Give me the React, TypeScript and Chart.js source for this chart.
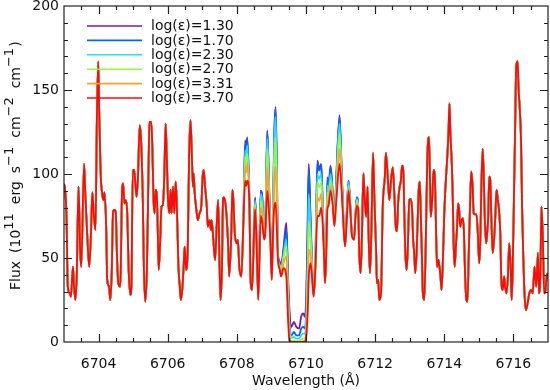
import React, { useEffect, useRef } from 'react';
import { Chart, registerables } from 'chart.js';

Chart.register(...registerables);

const seriesLabels = ['log(ε)=1.30', 'log(ε)=1.70', 'log(ε)=2.30', 'log(ε)=2.70', 'log(ε)=3.31', 'log(ε)=3.70'];
const seriesColors = ['rgb(118,28,168)', 'rgb(0,100,255)', 'rgb(40,220,255)', 'rgb(150,250,60)', 'rgb(255,160,40)', 'rgb(255,10,10)'];

const xTicks = [6704, 6706, 6708, 6710, 6712, 6714, 6716];
const yTicks = [0, 50, 100, 150, 200];

// shared part, left of the abundance-sensitive region
const waveLeft = [
  6703.00, 6703.02, 6703.07, 6703.11, 6703.17, 6703.20, 6703.26, 6703.29, 6703.33, 6703.37,
  6703.42, 6703.47, 6703.50, 6703.58, 6703.62, 6703.67, 6703.73, 6703.78, 6703.82, 6703.86,
  6703.91, 6703.95, 6703.99, 6704.02, 6704.06, 6704.11, 6704.14, 6704.17, 6704.22, 6704.25,
  6704.30, 6704.34, 6704.38, 6704.42, 6704.47, 6704.50, 6704.53, 6704.57, 6704.62, 6704.64,
  6704.68, 6704.71, 6704.75, 6704.79, 6704.83, 6704.87, 6704.92, 6704.95, 6704.99, 6705.03,
  6705.07, 6705.10, 6705.14, 6705.19, 6705.23, 6705.28, 6705.31, 6705.35, 6705.40, 6705.45,
  6705.47, 6705.52, 6705.55, 6705.59, 6705.62, 6705.65, 6705.69, 6705.71, 6705.74, 6705.78,
  6705.82, 6705.86, 6705.90, 6705.94, 6705.97, 6706.01, 6706.05, 6706.08, 6706.11, 6706.15,
  6706.19, 6706.23, 6706.26, 6706.31, 6706.35, 6706.38, 6706.42, 6706.46, 6706.49, 6706.53,
  6706.58, 6706.62, 6706.66, 6706.70, 6706.73, 6706.75, 6706.78, 6706.83, 6706.87, 6706.92,
  6706.97, 6707.01, 6707.04, 6707.08, 6707.13, 6707.16, 6707.21, 6707.25, 6707.27, 6707.32,
  6707.37, 6707.42, 6707.46, 6707.50, 6707.53, 6707.57, 6707.60, 6707.62, 6707.67, 6707.71,
  6707.75, 6707.78, 6707.84, 6707.87, 6707.90, 6707.94, 6707.99, 6708.03, 6708.07,
];
const fluxLeft = [
  94, 92.5, 76.6, 33, 29, 27, 44.8, 33, 25, 41,
  92.5, 53, 44.8, 106, 86.5, 64.7, 44.8, 64.7, 89, 76.6,
  66.7, 131, 167, 136, 100.4, 87.5, 84.5, 89, 68.7, 37,
  33, 25, 41, 77.6, 78.6, 76.6, 53, 35, 33, 41,
  90.5, 94.4, 82.5, 84.5, 76.6, 43, 28, 33, 102.4, 102.4,
  92.5, 86.5, 98.4, 129, 120, 84.5, 44.8, 24, 44.8, 110,
  131, 131, 120, 84.5, 76.6, 90.5, 84.5, 68.7, 43, 58.7,
  80.6, 81.5, 98.4, 130, 112, 84.5, 76.6, 90.5, 76.6, 92.5,
  76.6, 95.4, 84.5, 44.8, 33, 25, 31, 44.8, 56.7, 43,
  56.7, 112, 132, 110, 92.5, 100.4, 88.7, 78.6, 72.6, 76.6,
  80.6, 98.4, 102.4, 92.5, 80.6, 68.7, 72.6, 66.7, 72.6, 60.7,
  48.8, 70.6, 84.5, 44.8, 25, 44.8, 84.5, 86, 82.5, 72.6,
  56.7, 39, 64.7, 90.5, 84.5, 64.7, 58.7, 60.7, 44.8,
];

// abundance-sensitive region, one array per model
const waveMid = [
  6708.13, 6708.19, 6708.24, 6708.27, 6708.30, 6708.36, 6708.40, 6708.44, 6708.50, 6708.53,
  6708.57, 6708.62, 6708.69, 6708.73, 6708.79, 6708.82, 6708.88, 6708.93, 6708.97, 6709.01,
  6709.04, 6709.08, 6709.12, 6709.16, 6709.19, 6709.24, 6709.28, 6709.35, 6709.43, 6709.48,
  6709.52, 6709.58, 6709.65, 6709.72, 6709.80, 6709.86, 6709.92, 6709.97, 6710.01, 6710.05,
  6710.08, 6710.13, 6710.17, 6710.22, 6710.27, 6710.33, 6710.38, 6710.44, 6710.48, 6710.53,
  6710.55, 6710.58, 6710.62, 6710.65, 6710.71, 6710.77, 6710.82, 6710.87, 6710.97, 6711.03,
  6711.08, 6711.13, 6711.18, 6711.23, 6711.28, 6711.33, 6711.39, 6711.43, 6711.47, 6711.51,
];
const fluxMid130 = [
  39, 75, 120, 114, 122, 88, 36, 31, 70, 86,
  62, 26, 90, 88, 64, 68, 126, 95, 66, 38,
  68, 122, 140, 100, 52, 48, 46, 56, 71, 40,
  20, 9, 12, 9, 8, 15, 17, 15, 30, 75,
  106, 75, 50, 28, 46, 108, 103, 106, 85, 50,
  36, 52, 98, 92, 105, 90, 72, 95, 135, 104,
  75, 57, 78, 96, 82, 64, 61, 76, 86, 80,
];
const fluxMid170 = [
  39, 74, 118, 113, 121, 87, 36, 31, 70, 85,
  62, 26, 90, 87, 64, 68, 125, 94, 66, 38,
  67, 120, 139, 99, 51, 47, 45, 54, 67, 36,
  14, 4, 6, 4, 4, 8, 9, 8, 22, 65,
  103, 73, 49, 28, 46, 107, 102, 105, 84, 50,
  36, 51, 97, 91, 104, 89, 72, 94, 134, 103,
  75, 57, 77, 96, 82, 64, 61, 76, 86, 80,
];
const fluxMid230 = [
  39, 73, 114, 110, 117, 86, 36, 31, 69, 84,
  61, 26, 88, 85, 63, 67, 121, 91, 65, 38,
  66, 116, 134, 95, 50, 46, 44, 52, 61, 32,
  10, 2.5, 3, 2, 2, 4, 5, 5, 15, 50,
  88, 68, 47, 27, 45, 100, 97, 100, 82, 49,
  36, 50, 93, 89, 100, 88, 71, 91, 130, 100,
  74, 57, 76, 95, 81, 64, 61, 75, 85, 80,
];
const fluxMid270 = [
  39, 72, 110, 106, 112, 85, 35, 31, 68, 82,
  60, 25, 84, 81, 62, 66, 115, 87, 63, 37,
  64, 106, 122, 88, 50, 45, 42, 50, 57, 28,
  6, 0.5, 1, 0.5, 0.5, 1.5, 2, 2, 10, 40,
  72, 60, 45, 27, 45, 95, 92, 95, 79, 48,
  35, 49, 89, 86, 96, 86, 70, 88, 124, 97,
  73, 57, 75, 93, 80, 63, 61, 75, 84, 79,
];
const fluxMid331 = [
  39, 71, 104, 101, 106, 85, 35, 31, 67, 80,
  59, 25, 80, 77, 61, 65, 104, 82, 61, 37,
  62, 94, 104, 78, 49, 44, 40, 47, 51, 22,
  3, 0, 0, 0, 0, 0, 0.5, 0.5, 6, 28,
  55, 52, 42, 27, 44, 86, 84, 88, 75, 48,
  35, 48, 84, 83, 93, 84, 69, 85, 115, 94,
  72, 57, 74, 92, 79, 63, 61, 74, 82, 79,
];
const fluxMid370 = [
  39, 71, 96, 93, 96, 84, 35, 31, 67, 79,
  59, 25, 75, 72, 61, 64, 90, 77, 60, 37,
  60, 80, 83, 65, 49, 43, 39, 44, 39, 14,
  1, 0, 0, 0, 0, 0, 0, 0, 4, 18,
  38, 47, 40, 27, 43, 75, 75, 80, 71, 47,
  35, 47, 79, 81, 90, 82, 69, 82, 106, 90,
  71, 57, 73, 90, 79, 63, 61, 74, 81, 79,
];

// shared part, right of the abundance-sensitive region
const waveRight = [
  6711.54, 6711.58, 6711.62, 6711.66, 6711.70, 6711.74, 6711.78, 6711.81, 6711.85, 6711.89,
  6711.94, 6711.98, 6712.03, 6712.05, 6712.09, 6712.12, 6712.17, 6712.22, 6712.28, 6712.31,
  6712.37, 6712.41, 6712.46, 6712.51, 6712.55, 6712.60, 6712.63, 6712.67, 6712.71, 6712.74,
  6712.78, 6712.82, 6712.84, 6712.87, 6712.91, 6712.94, 6712.99, 6713.03, 6713.07, 6713.10,
  6713.13, 6713.16, 6713.20, 6713.23, 6713.26, 6713.29, 6713.32, 6713.36, 6713.38, 6713.42,
  6713.46, 6713.49, 6713.52, 6713.56, 6713.59, 6713.61, 6713.65, 6713.69, 6713.73, 6713.76,
  6713.79, 6713.83, 6713.86, 6713.89, 6713.92, 6713.96, 6714.00, 6714.04, 6714.08, 6714.12,
  6714.15, 6714.18, 6714.21, 6714.24, 6714.27, 6714.30, 6714.34, 6714.37, 6714.40, 6714.43,
  6714.46, 6714.50, 6714.54, 6714.57, 6714.60, 6714.64, 6714.67, 6714.71, 6714.75, 6714.78,
  6714.82, 6714.85, 6714.89, 6714.93, 6714.97, 6715.01, 6715.04, 6715.07, 6715.11, 6715.14,
  6715.17, 6715.21, 6715.24, 6715.27, 6715.30, 6715.33, 6715.36, 6715.40, 6715.44, 6715.48,
  6715.51, 6715.55, 6715.59, 6715.62, 6715.65, 6715.69, 6715.73, 6715.76, 6715.80, 6715.84,
  6715.88, 6715.92, 6715.95, 6715.98, 6716.02, 6716.05, 6716.08, 6716.12, 6716.15, 6716.18,
  6716.22, 6716.25, 6716.28, 6716.32, 6716.36, 6716.41, 6716.46, 6716.51, 6716.56, 6716.61,
  6716.66, 6716.71, 6716.74, 6716.78, 6716.81, 6716.85, 6716.89, 6716.93, 6716.96, 6717.00,
];
const fluxRight = [
  53, 41, 64.7, 100.4, 84.5, 74.6, 92.5, 64.7, 41, 64.7,
  112.5, 84.5, 53, 35, 37, 25, 29, 80.6, 98.4, 112.5,
  96.4, 84.5, 96.4, 104, 90, 68, 66, 84.5, 92.5, 95.4,
  105, 100, 80.6, 54.8, 42.9, 53, 84.5, 85, 78.6, 60.7,
  53, 41, 53, 72.6, 90.5, 95.4, 76.6, 44.8, 29, 25,
  54.8, 88.7, 116, 122, 92.5, 74.6, 84.5, 102.4, 96.4, 68.7,
  44.8, 48.8, 44.8, 39, 31, 48.8, 76.6, 94.4, 108, 124,
  142, 122, 110, 90.5, 58.7, 44.8, 58.7, 68.7, 82.5, 78.6,
  68.7, 72.6, 73.6, 64.7, 41, 25, 24, 54.8, 84.5, 101.4,
  92.5, 76.6, 76, 76, 64.7, 47, 58.7, 90.5, 115, 100.4,
  74.6, 58.7, 64.7, 74.6, 98.4, 96.4, 74.6, 53, 60.7, 76.6,
  90.5, 84.5, 76.6, 64.7, 37, 31, 39, 33, 29, 39,
  58.7, 44.8, 25, 44.8, 92.5, 128, 164, 167, 150, 140,
  120, 80.6, 55, 29, 19, 23, 29, 31, 29, 44.8,
  33, 53, 29, 41, 80.6, 62.7, 29, 31, 39, 41,
];

const midSeries = [fluxMid130, fluxMid170, fluxMid230, fluxMid270, fluxMid331, fluxMid370];

const FONT = 'DejaVu Sans';
const TEXT_COLOR = '#111';

const xMin = 6703;
const xMax = 6717;
const yMin = 0;
const yMax = 200;

const frameTicksPlugin = {
  id: 'frameTicks',
  afterDatasetsDraw(chart: any) {
    const { ctx, chartArea: a, scales } = chart;
    const xs = scales.x;
    const ys = scales.y;
    ctx.save();
    ctx.strokeStyle = '#222';
    ctx.lineWidth = 1.2;
    ctx.beginPath();
    const nx = Math.round((xMax - xMin) / 0.5);
    for (let i = 1; i < nx; i++) {
      const v = xMin + i * 0.5;
      const px = Math.round(xs.getPixelForValue(v)) + 0.5;
      const major = xTicks.includes(v);
      const len = major ? 8 : 4;
      ctx.moveTo(px, a.bottom);
      ctx.lineTo(px, a.bottom - len);
      ctx.moveTo(px, a.top);
      ctx.lineTo(px, a.top + len);
    }
    const ny = Math.round((yMax - yMin) / 10);
    for (let i = 1; i < ny; i++) {
      const v = yMin + i * 10;
      const py = Math.round(ys.getPixelForValue(v)) + 0.5;
      const major = yTicks.includes(v);
      const len = major ? 8 : 4;
      ctx.moveTo(a.left, py);
      ctx.lineTo(a.left + len, py);
      ctx.moveTo(a.right, py);
      ctx.lineTo(a.right - len, py);
    }
    ctx.stroke();
    ctx.strokeRect(a.left, a.top, a.right - a.left, a.bottom - a.top);
    ctx.restore();
  },
};

const legendPlugin = {
  id: 'insetLegend',
  afterDraw(chart: any) {
    const { ctx } = chart;
    ctx.save();
    ctx.font = `14px "${FONT}"`;
    ctx.textBaseline = 'middle';
    ctx.textAlign = 'left';
    seriesLabels.forEach((label, i) => {
      const y = 26 + i * 14.4;
      ctx.strokeStyle = seriesColors[i];
      ctx.lineWidth = 1.6;
      ctx.beginPath();
      ctx.moveTo(87, y);
      ctx.lineTo(142, y);
      ctx.stroke();
      ctx.fillStyle = TEXT_COLOR;
      ctx.fillText(label, 151, y + 0.5);
    });
    ctx.restore();
  },
};

const titlesPlugin = {
  id: 'axisTitles',
  afterDraw(chart: any) {
    const { ctx, chartArea: a } = chart;
    ctx.save();
    ctx.fillStyle = TEXT_COLOR;
    // x title
    ctx.font = `14px "${FONT}"`;
    ctx.textAlign = 'center';
    ctx.textBaseline = 'alphabetic';
    ctx.fillText('Wavelength (Å)', (a.left + a.right) / 2, 385);

    // y title with superscripts
    const pieces: [string, boolean][] = [
      ['Flux', false], [' (10', false], ['11', true], [' erg', false], [' s', false], ['−1', true],
      [' cm', false], ['−2', true], [' cm', false], ['−1', true], [')', false],
    ];
    const mainFont = `14px "${FONT}"`;
    const supFont = `13px "${FONT}"`;
    const widths = pieces.map(([t, sup]) => {
      ctx.font = sup ? supFont : mainFont;
      return ctx.measureText(t).width;
    });
    const extraAtSpace = 3.5;
    ctx.translate(20, 290);
    ctx.rotate(-Math.PI / 2);
    ctx.textAlign = 'left';
    let pos = 0;
    pieces.forEach(([t, sup], i) => {
      if (t.startsWith(' ')) pos += extraAtSpace;
      ctx.font = sup ? supFont : mainFont;
      ctx.fillText(t, pos, sup ? -7 : 0);
      pos += widths[i] + (sup ? 1 : 0);
    });
    ctx.restore();
  },
};

export default function App() {
  const canvasRef = useRef<HTMLCanvasElement | null>(null);

  useEffect(() => {
    const canvas = canvasRef.current;
    if (!canvas) return;

    const n = seriesLabels.length;
    const datasets = seriesLabels.map((label, i) => ({
      label,
      data: [
        ...waveLeft.map((x, j) => ({ x, y: fluxLeft[j] })),
        ...waveMid.map((x, j) => ({ x, y: midSeries[i][j] })),
        ...waveRight.map((x, j) => ({ x, y: fluxRight[j] })),
      ],
      borderColor: seriesColors[i],
      backgroundColor: seriesColors[i],
      borderWidth: 1.8,
      pointRadius: 0,
      cubicInterpolationMode: 'monotone',
      fill: false,
      order: n - 1 - i,
    }));

    const tickFont = { family: FONT, size: 14 };

    const chart = new Chart(canvas, {
      type: 'line',
      data: { datasets },
      options: {
        animation: false,
        responsive: false,
        devicePixelRatio: 1,
        events: [],
        layout: { padding: { top: 6, right: 2, left: 0, bottom: 0 } },
        plugins: {
          legend: { display: false },
          tooltip: { enabled: false },
          title: { display: false },
        },
        scales: {
          x: {
            type: 'linear',
            min: xMin,
            max: xMax,
            grid: { display: false, drawTicks: false },
            border: { display: false },
            ticks: {
              padding: 14,
              font: tickFont,
              color: TEXT_COLOR,
              maxRotation: 0,
              autoSkip: false,
              callback: (v: any) => String(v),
            },
            afterBuildTicks: (s: any) => {
              s.ticks = xTicks.map((v) => ({ value: v }));
            },
            afterFit: (s: any) => {
              s.height = 48;
              s.paddingLeft = 0;
              s.paddingRight = 0;
            },
          },
          y: {
            type: 'linear',
            min: yMin,
            max: yMax,
            grid: { display: false, drawTicks: false },
            border: { display: false },
            ticks: {
              padding: 5,
              font: tickFont,
              color: TEXT_COLOR,
              autoSkip: false,
              callback: (v: any) => String(v),
            },
            afterBuildTicks: (s: any) => {
              s.ticks = yTicks.map((v) => ({ value: v }));
            },
            afterFit: (s: any) => {
              s.width = 64;
              s.paddingTop = 0;
              s.paddingBottom = 0;
            },
          },
        },
      } as any,
      plugins: [frameTicksPlugin, legendPlugin, titlesPlugin],
    });

    return () => {
      chart.destroy();
    };
  }, []);

  return (
    <div style={{ position: 'absolute', left: 0, top: 0, width: 550, height: 390, background: '#fff' }}>
      <canvas ref={canvasRef} width={550} height={390} style={{ display: 'block' }} />
    </div>
  );
}
